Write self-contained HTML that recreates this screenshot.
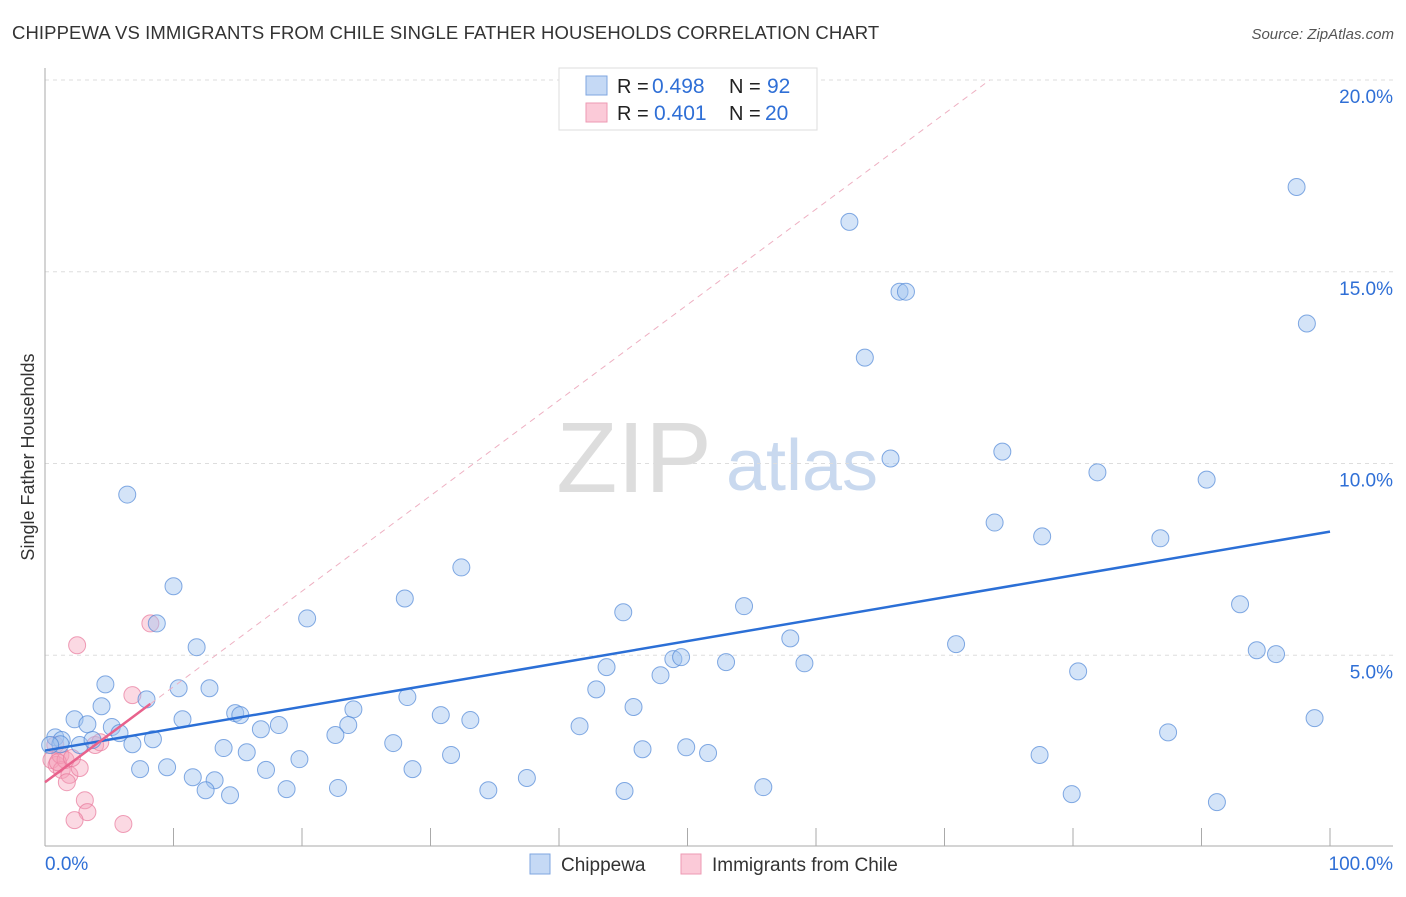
<!DOCTYPE html>
<html><head><meta charset="utf-8"><style>
body{margin:0;background:#fff;font-family:"Liberation Sans",sans-serif;}
svg text{font-family:"Liberation Sans",sans-serif;}
</style></head><body>
<svg id="chart" width="1406" height="892" viewBox="0 0 1406 892" xmlns="http://www.w3.org/2000/svg">
<text x="12" y="39" font-size="18.5" fill="#333" letter-spacing="0.1">CHIPPEWA VS IMMIGRANTS FROM CHILE SINGLE FATHER HOUSEHOLDS CORRELATION CHART</text>
<text x="1394" y="39" font-size="15" fill="#555" font-style="italic" text-anchor="end">Source: ZipAtlas.com</text>
<text transform="translate(34,457) rotate(-90)" font-size="18" fill="#333" text-anchor="middle">Single Father Households</text>
<g>
<text x="634" y="492" font-size="100" fill="#ddd" font-family="Liberation Serif" text-anchor="middle">ZIP</text>
<text x="802" y="490" font-size="72" fill="#c9d9ef" text-anchor="middle">atlas</text>
</g>
<g id="grid"></g>
<g id="axes"></g>
<g id="marks"></g>
<g>
<rect x="559" y="68" width="258" height="62" fill="#fff" stroke="#ddd"/>
<rect x="586" y="76" width="21" height="19" fill="#c5d9f5" stroke="#7fa6e0"/>
<text x="617" y="93" font-size="20" fill="#222">R =</text>
<text x="652" y="93" font-size="21" fill="#2f6fd6">0.498</text>
<text x="729" y="93" font-size="20" fill="#222">N =</text>
<text x="767" y="93" font-size="21" fill="#2f6fd6">92</text>
<rect x="586" y="103" width="21" height="19" fill="#fbcad8" stroke="#ee9ab3"/>
<text x="617" y="120" font-size="20" fill="#222">R =</text>
<text x="654" y="120" font-size="21" fill="#2f6fd6">0.401</text>
<text x="729" y="120" font-size="20" fill="#222">N =</text>
<text x="765" y="120" font-size="21" fill="#2f6fd6">20</text>
</g>
<g>
<rect x="530" y="854" width="20" height="20" fill="#c5d9f5" stroke="#7fa6e0"/>
<text x="561" y="871" font-size="19" fill="#333">Chippewa</text>
<rect x="681" y="854" width="20" height="20" fill="#fbcad8" stroke="#ee9ab3"/>
<text x="712" y="871" font-size="19" fill="#333">Immigrants from Chile</text>
</g>
</svg>
<script>
const yTicks=[5,10,15,20];
const yTickLabels=["5.0%","10.0%","15.0%","20.0%"];
const xTickLabels=["0.0%","100.0%"];
const chippewaX=[6.4,10.0,8.7,11.8,4.7,10.4,12.8,7.9,4.4,2.3,3.3,5.2,5.8,0.8,1.3,2.7,3.7,6.8,8.4,10.7,14.8,15.2,18.2,16.8,20.4,24.0,23.6,22.6,13.9,15.7,19.8,11.5,13.2,12.5,14.4,17.2,18.8,22.8,7.4,9.5,28.0,32.4,28.2,30.8,33.1,27.1,31.6,28.6,34.5,37.5,41.6,42.9,43.7,45.0,45.8,46.5,45.1,47.9,48.9,49.5,49.9,51.6,53.0,54.4,55.9,58.0,59.1,62.6,63.8,66.5,67.0,65.8,70.9,73.9,74.5,77.6,77.4,79.9,80.4,81.9,86.8,87.4,90.4,91.2,93.0,94.3,95.8,97.4,98.2,98.8,1.2,0.4];
const chippewaY=[9.19,6.80,5.83,5.21,4.24,4.14,4.14,3.85,3.67,3.33,3.20,3.13,2.97,2.86,2.79,2.66,2.79,2.68,2.81,3.33,3.49,3.44,3.18,3.07,5.96,3.59,3.18,2.92,2.58,2.47,2.29,1.82,1.74,1.48,1.35,2.01,1.51,1.54,2.03,2.08,6.48,7.29,3.91,3.44,3.31,2.71,2.40,2.03,1.48,1.80,3.15,4.11,4.69,6.12,3.65,2.55,1.46,4.48,4.90,4.95,2.60,2.45,4.82,6.28,1.56,5.44,4.79,16.30,12.76,14.48,14.48,10.13,5.29,8.46,10.31,8.10,2.40,1.38,4.58,9.77,8.05,2.99,9.58,1.17,6.33,5.13,5.03,17.21,13.65,3.36,2.68,2.66];
const chileX=[2.5,8.2,6.8,0.8,0.5,0.9,1.3,1.9,1.7,2.7,3.9,3.1,3.3,2.3,6.1,1.2,1.6,1.0,2.1,4.3];
const chileY=[5.26,5.83,3.96,2.66,2.27,2.14,2.01,1.88,1.69,2.06,2.66,1.22,0.91,0.70,0.60,2.40,2.27,2.21,2.32,2.73];
const NS="http://www.w3.org/2000/svg";
const X0=45,X1=1330,Y0=847,YS=38.35;
function sx(v){return X0+(X1-X0)*v/100;}
function sy(v){return Y0-v*YS;}
function mk(tag,attrs,parent){const e=document.createElementNS(NS,tag);for(const k in attrs)e.setAttribute(k,attrs[k]);parent.appendChild(e);return e;}
const grid=document.getElementById('grid'),axes=document.getElementById('axes'),marks=document.getElementById('marks');
yTicks.forEach((t,i)=>{
 const l=mk('line',{x1:45,x2:1393,y1:sy(t),y2:sy(t),stroke:'#ddd','stroke-dasharray':'4,4'},grid);
 
 
 const tx=mk('text',{x:1393,y:sy(t)+23,'font-size':19,fill:'#2f6fd6','text-anchor':'end'},axes);
 tx.textContent=yTickLabels[i];
 
 
});
let a=mk('line',{x1:45,x2:45,y1:68,y2:846,stroke:'#aaa'},axes);


a=mk('line',{x1:45,x2:1393,y1:846,y2:846,stroke:'#aaa'},axes);


for(let i=1;i<=10;i++){
 const t=mk('line',{x1:sx(i*10),x2:sx(i*10),y1:828,y2:846,stroke:'#aaa'},axes);
 
 
}
let xl=mk('text',{x:45,y:870,'font-size':19,fill:'#2f6fd6'},axes);xl.textContent=xTickLabels[0];


xl=mk('text',{x:1393,y:870,'font-size':19,fill:'#2f6fd6','text-anchor':'end'},axes);xl.textContent=xTickLabels[1];


function reg(xs,ys){const n=xs.length;let mx=0,my=0;for(let i=0;i<n;i++){mx+=xs[i];my+=ys[i];}mx/=n;my/=n;let sxy=0,sxx=0;for(let i=0;i<n;i++){sxy+=(xs[i]-mx)*(ys[i]-my);sxx+=(xs[i]-mx)**2;}const b=sxy/sxx;return[my-b*mx,b];}
chileX.forEach((x,i)=>{
 const c=mk('circle',{cx:sx(x),cy:sy(chileY[i]),r:8.5,fill:'rgba(245,160,185,0.4)',stroke:'rgba(232,120,155,0.7)','stroke-width':1},marks);
 
 
});
chippewaX.forEach((x,i)=>{
 const c=mk('circle',{cx:sx(x),cy:sy(chippewaY[i]),r:8.5,fill:'rgba(160,195,240,0.45)',stroke:'rgba(80,135,215,0.7)','stroke-width':1},marks);
 
 
});
const [ba,bb]=reg(chippewaX,chippewaY);
let ln=mk('line',{x1:sx(0),y1:sy(ba),x2:sx(100),y2:sy(ba+bb*100),stroke:'#2b6fd6','stroke-width':2.5},marks);


const [pa,pb]=reg(chileX,chileY);
const pmax=Math.max(...chileX);
const xTop=(20-pa)/pb;
ln=mk('line',{x1:sx(pmax),y1:sy(pa+pb*pmax),x2:sx(xTop),y2:sy(20),stroke:'#eeb0c2','stroke-width':1,'stroke-dasharray':'6,5'},marks);


ln=mk('line',{x1:sx(0),y1:sy(pa),x2:sx(pmax),y2:sy(pa+pb*pmax),stroke:'#e8628c','stroke-width':2.5},marks);


</script>
</body></html>
